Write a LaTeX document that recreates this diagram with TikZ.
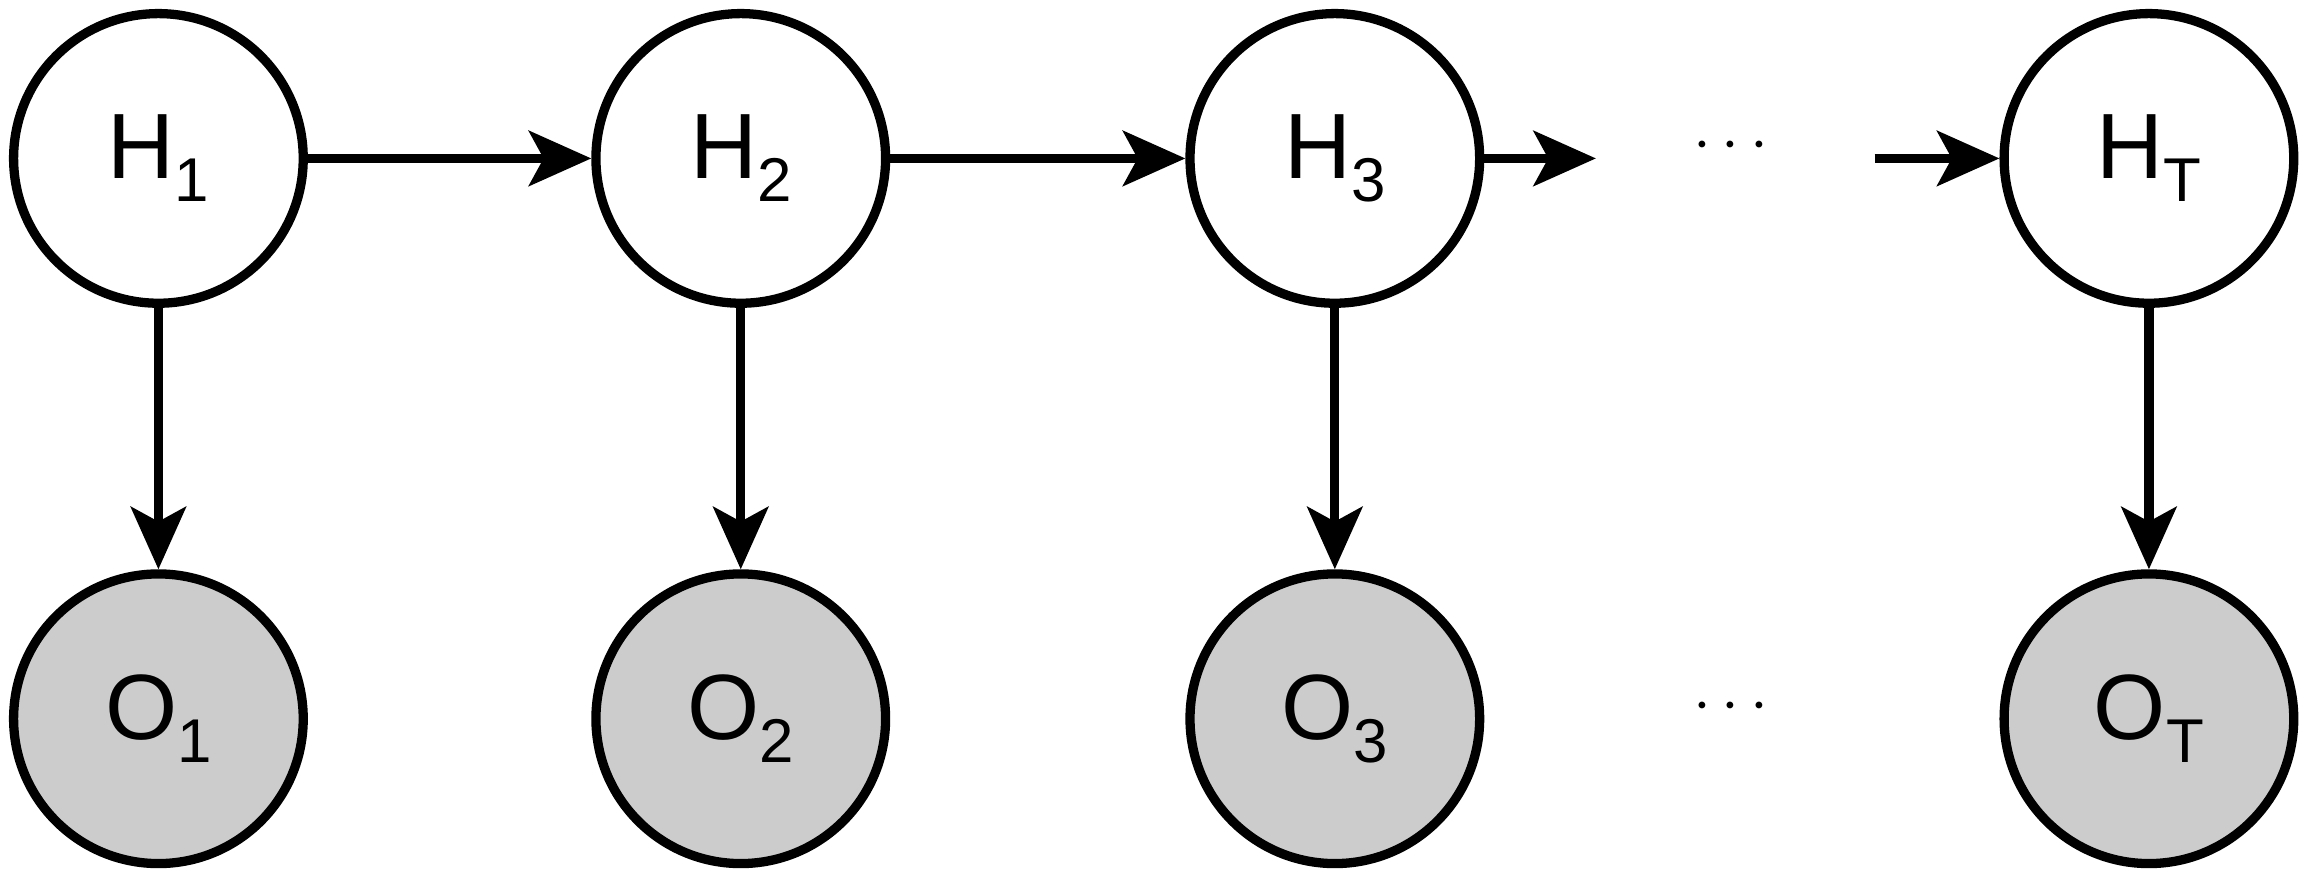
\documentclass[tikz,border=0pt]{standalone}
\usepackage{fontspec}
\setmainfont{Liberation Sans}
\usetikzlibrary{arrows.meta}
\usetikzlibrary{positioning}
\tikzset{
  hidden/.style = {draw, circle, line width=3.6pt, minimum size=3.95cm, inner sep=0pt, fill=white, font=\fontsize{36}{40}\selectfont},
  observed/.style = {hidden, fill=black!20},
  dots/.style = {font=\fontsize{36}{40}\selectfont},
}
\newcommand{\sub}[1]{\raisebox{-0.25em}{\fontsize{24}{26}\selectfont #1}}

\begin{document}
\begin{tikzpicture}[x=0.02cm, y=-0.02cm, >={Stealth[length=0.85cm, width=0.75cm, inset=0.2cm]}, line width=3.6pt]
    \useasboundingbox (0,0) rectangle (1568,608);
    % Placing the hidden states
    \node [hidden] (h1) at (108,108) {H\sub{1}};
    \node [hidden] (h2) at (505,108) {H\sub{2}};
    \node [hidden] (h3) at (910,108) {H\sub{3}};
    \node [dots] (hdots) at (1180,100) {$\cdots$};
    \node [hidden] (hT) at (1465,108) {H\sub{T}};

    % Placing the observations
    \node [observed] (o1) at (108,490) {O\sub{1}};
    \node [observed] (o2) at (505,490) {O\sub{2}};
    \node [observed] (o3) at (910,490) {O\sub{3}};
    \node [dots] (odots) at (1180,482) {$\cdots$};
    \node [observed] (oT) at (1465,490) {O\sub{T}};

    \coordinate (a3) at (1088,108);
    \coordinate (bT) at (1278,108);

    % Connecting the nodes
    \draw [->] (h1) -- (h2);
    \draw [->] (h2) -- (h3);
    \draw [->] (h3) -- (a3);
    \draw [->] (bT) -- (hT);
    \foreach \i in {1,2,3,T}
        \draw [->] (h\i) -- (o\i);
\end{tikzpicture}
\end{document}
